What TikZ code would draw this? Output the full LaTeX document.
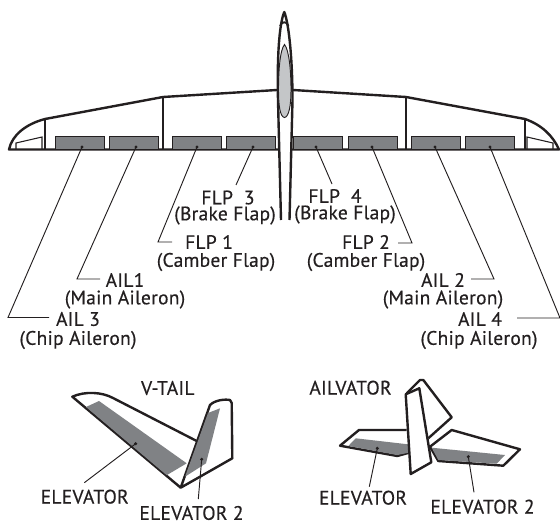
\documentclass[tikz,border=0pt]{standalone}
\usepackage{fontspec}
\setmainfont{PT Sans}[LetterSpace=1.5,RawFeature={embolden=0.4}]
\definecolor{ink}{HTML}{231F20}
\definecolor{flapgray}{HTML}{808285}
\definecolor{canopy}{HTML}{C4C6C8}
\tikzset{
  outline/.style={draw=ink,line width=1.8pt,line join=round},
  rib/.style={draw=ink,line width=0.8pt},
  leader/.style={draw=ink,line width=0.7pt},
  flap/.style={draw=ink,fill=flapgray,line width=0.8pt,minimum width=37pt,minimum height=9.75pt,inner sep=0pt,anchor=south west},
  surface/.style={fill=flapgray,draw=none},
  pin/.style={circle,fill=ink,inner sep=0pt,minimum size=2.6pt},
  tag/.style={text=ink,inner sep=0pt,font=\fontsize{14.6}{16}\selectfont},
}
\begin{document}
\begin{tikzpicture}[x=0.75pt,y=-0.75pt]
  \useasboundingbox (0,0) rectangle (560,524);
  % wing
  \draw[outline,fill=white] (9,149.5) .. controls (12,135) and (26,124) .. (45,119) -- (163,97) -- (277,90) -- (293,90) -- (406,97) -- (525,119) .. controls (542,125) and (553,136) .. (559,149.5) -- cycle;
  \draw[rib] (45,119) -- (45,149) (163,97) -- (163,149) (406,97) -- (406,149) (525,119) -- (525,149);
  \draw[rib] (16,149) -- (16,143) -- (42,137) -- (42,149);
  \draw[rib] (527,149) -- (527,137) -- (553,143) -- (553,149);
  \foreach \px/\flapname in {55/ailC,109/ailA,172/flpA,226/flpC,293/flpD,348/flpB,411/ailB,465/ailD}
    \node[flap] (\flapname) at (\px,150) {};
  % fuselage
  \draw[outline,fill=white] (281,220) -- (278,100) .. controls (277,60) and (279,24) .. (284.3,12) .. controls (289,24) and (292.5,60) .. (292.5,100) -- (289.5,220);
  \draw[outline,line width=1.4pt] (280,26) .. controls (282,21) and (286.5,21) .. (288.5,26);
  \draw[draw=ink,line width=0.7pt,fill=canopy] (284.5,44.5) .. controls (280,50) and (278.5,70) .. (278.5,90) .. controls (278.5,105) and (280,117) .. (284.5,117.5) .. controls (289,117) and (291,105) .. (291,90) .. controls (291,70) and (289,50) .. (284.5,44.5) -- cycle;
  % labels
  \node[tag] (flp3) at (228,197.5) {FLP\ \ 3};
  \node[tag] (flp3b) at (225,215.5) {(Brake Flap)};
  \node[tag] (flp4) at (335,196) {FLP\ \ 4};
  \node[tag] (flp4b) at (345,214.5) {(Brake Flap)};
  \node[tag] (flp1) at (209,242) {FLP 1};
  \node[tag] (flp1b) at (216,262) {(Camber Flap)};
  \node[tag] (flp2) at (366,242) {FLP 2};
  \node[tag] (flp2b) at (366,262) {(Camber Flap)};
  \node[tag] (ail1) at (125,280) {AIL1};
  \node[tag] (ail1b) at (125,299.5) {(Main Aileron)};
  \node[tag] (ail2) at (443,280) {AIL 2};
  \node[tag] (ail2b) at (443,299.5) {(Main Aileron)};
  \node[tag] (ail3) at (78,319) {AIL 3};
  \node[tag] (ail3b) at (78,340) {(Chip Aileron)};
  \node[tag] (ail4) at (480,319) {AIL 4};
  \node[tag] (ail4b) at (479,340) {(Chip Aileron)};
  % leaders
  \node[pin] (pinC) at (82,147) {};
  \node[pin] (pinA) at (136,147) {};
  \node[pin] (pinE) at (197,147) {};
  \node[pin] (pinG) at (253,147) {};
  \node[pin] (pinH) at (316,147) {};
  \node[pin] (pinF) at (372,147) {};
  \node[pin] (pinB) at (435,147) {};
  \node[pin] (pinD) at (490,147) {};
  \coordinate (kneeC) at (8,317.5);
  \coordinate (endC) at (49,317.5);
  \coordinate (kneeA) at (77,279);
  \coordinate (endA) at (100,279);
  \coordinate (kneeE) at (158,242);
  \coordinate (endE) at (172,242);
  \coordinate (endG) at (236,185);
  \coordinate (endH) at (332,184);
  \coordinate (kneeF) at (412,243);
  \coordinate (endF) at (398,243);
  \coordinate (kneeB) at (494,279);
  \coordinate (endB) at (471,279);
  \coordinate (kneeD) at (560,318);
  \coordinate (endD) at (517,318);
  \draw[leader] (pinC.center) -- (kneeC) -- (endC);
  \draw[leader] (pinA.center) -- (kneeA) -- (endA);
  \draw[leader] (pinE.center) -- (kneeE) -- (endE);
  \draw[leader] (pinG.center) -- (endG);
  \draw[leader] (pinH.center) -- (endH);
  \draw[leader] (pinF.center) -- (kneeF) -- (endF);
  \draw[leader] (pinB.center) -- (kneeB) -- (endB);
  \draw[leader] (pinD.center) -- (kneeD) -- (endD);
  % v-tail
  \draw[outline,fill=white] (180.7,487.7) -- (72.3,396.7) .. controls (85,391) and (102,392) .. (113,398) -- (196.7,441);
  \draw[surface] (86,407) -- (99,401) -- (186.7,463.3) -- (166.7,475.2) -- cycle;
  \draw[outline,fill=white] (180.7,487.7) -- (210,405) .. controls (215,400) and (225,399) .. (230,400) -- (231.7,403) -- (232.3,458.3) -- cycle;
  \draw[surface] (220,408.3) -- (206,463.3) -- (185,476.7) -- (208,413) -- cycle;
  \node[pin] (pinV) at (135.7,443.7) {};
  \node[pin] (pinW) at (201.7,459.3) {};
  \node[tag] (vtail) at (167.8,388) {V-TAIL};
  \node[tag] (velev) at (84.7,496.7) {ELEVATOR};
  \node[tag] (velevb) at (191.5,513) {ELEVATOR 2};
  \coordinate (endV) at (84.3,482.7);
  \coordinate (endW) at (198.3,499);
  \draw[leader] (pinV.center) -- (endV);
  \draw[leader] (pinW.center) -- (endW);
  % ailvator
  \draw[outline,fill=white] (406.7,393.3) -- (420,380) -- (423.3,380) -- (451.7,417.3) -- (428.3,438.3);
  \draw[outline,fill=white] (406.7,430) -- (359,430) -- (340,445.7) -- (397.3,456) -- (409,452.7);
  \draw[surface] (355.7,438.3) -- (408,444.3) -- (409,452.7) -- (397.3,455) -- (348.3,446) -- cycle;
  \draw[outline,fill=white] (430,446.7) -- (451.7,430) -- (520,449.3) -- (503.3,465.7) -- (438.3,461) -- cycle;
  \draw[surface] (431.7,447.7) -- (505,455) -- (496.7,463.7) -- (438.3,460) -- cycle;
  \draw[outline,fill=white] (405.7,394.3) -- (419.3,388.3) -- (431.3,462.3) -- (410.7,474) -- cycle;
  \node[pin] (pinX) at (377.3,448.3) {};
  \node[pin] (pinY) at (468.3,456.7) {};
  \node[tag] (ailv) at (350.5,387.7) {AILVATOR};
  \node[tag] (aelev) at (363,497.7) {ELEVATOR};
  \node[tag] (aelevb) at (482.5,506.7) {ELEVATOR 2};
  \coordinate (endX) at (369.3,486.7);
  \coordinate (endY) at (474,492.3);
  \draw[leader] (pinX.center) -- (endX);
  \draw[leader] (pinY.center) -- (endY);
\end{tikzpicture}
\end{document}
